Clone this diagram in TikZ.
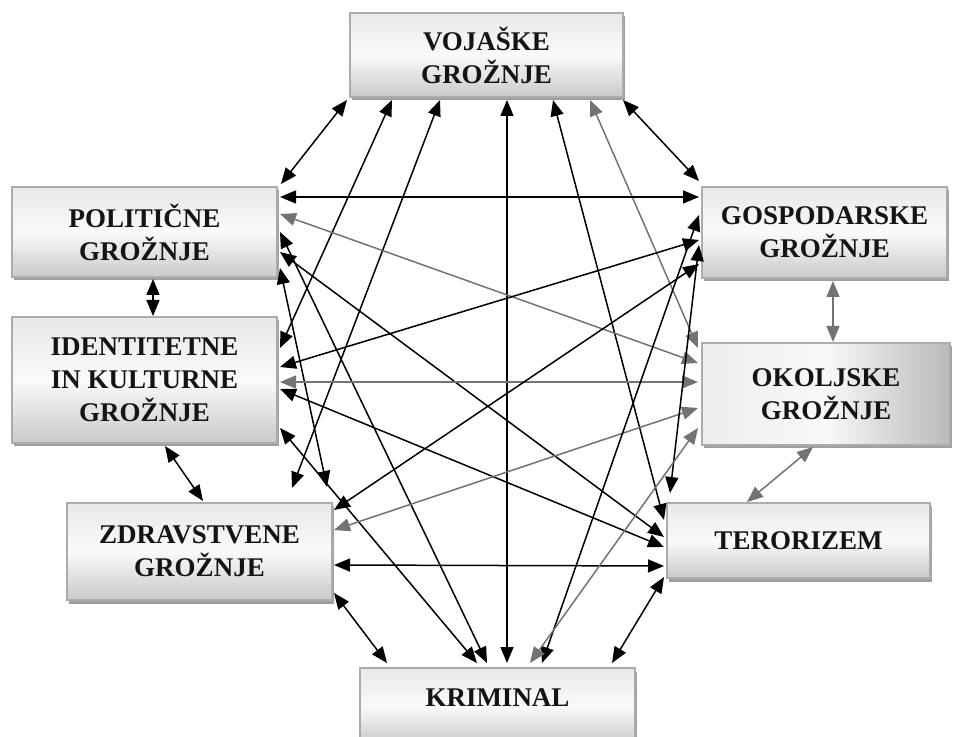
\documentclass[tikz,border=0pt]{standalone}
\usepackage{fontspec}
\setmainfont{Liberation Serif}
\usetikzlibrary{arrows.meta,shadows}
\begin{document}
\begin{tikzpicture}[x=1pt,y=1pt,
  box/.style={draw=gray!65, line width=1.8pt, top color=gray!18, bottom color=gray!42, middle color=gray!4,
    drop shadow={shadow xshift=2pt, shadow yshift=-3.5pt, fill=gray!75, opacity=1},
    align=center, text=black!92, font=\fontsize{27}{33}\selectfont\bfseries, inner sep=2pt},
  dbl/.style={{Triangle[length=16pt,width=13pt]}-{Triangle[length=16pt,width=13pt]}, line width=1.5pt, color=black},
  gr/.style={dbl, color=black!55}]
\useasboundingbox (0,0) rectangle (957,736);
\node[box, minimum width=273pt, minimum height=84pt] (V) at (486.5,681) {VOJAŠKE\\GROŽNJE};
\node[box, minimum width=265pt, minimum height=90pt] (P) at (144.5,504) {POLITIČNE\\GROŽNJE};
\node[box, minimum width=265pt, minimum height=126pt] (I) at (144.5,356) {IDENTITETNE\\IN KULTURNE\\GROŽNJE};
\node[box, minimum width=265pt, minimum height=97pt] (Z) at (199.5,184.5) {ZDRAVSTVENE\\GROŽNJE};
\node[box, minimum width=245pt, minimum height=91pt] (G) at (824.5,503.5) {GOSPODARSKE\\GROŽNJE};
\node[box, minimum width=248pt, minimum height=102pt, left color=gray!14, right color=gray!55, middle color=gray!5] (O) at (826,342) {OKOLJSKE\\GROŽNJE};
\node[box, minimum width=263pt, minimum height=75pt] (T) at (798.5,195.5) {TERORIZEM};
\node[box, minimum width=275pt, minimum height=76pt, text height=18pt, text depth=18pt] (K) at (497.5,30) {KRIMINAL};
% VOJASKE
\draw[dbl] ([shift={(-139.5,-45)}]V.center) -- ([shift={(136.5,48)}]P.center);
\draw[dbl] ([shift={(-94.5,-45)}]V.center) -- ([shift={(135.5,32)}]I.center);
\draw[dbl] ([shift={(-46.5,-45)}]V.center) -- ([shift={(92.5,63.5)}]Z.center);
\draw[dbl] ([shift={(20.5,-45)}]V.center) -- ([shift={(9.5,43)}]K.center);
\draw[dbl] ([shift={(66.5,-45)}]V.center) -- ([shift={(-134.5,20.5)}]T.center);
\draw[gr] ([shift={(103.5,-45)}]V.center) -- ([shift={(-128,46)}]O.center);
\draw[dbl] ([shift={(136.5,-45)}]V.center) -- ([shift={(-125.5,51.5)}]G.center);
% POLITICNE
\draw[dbl] ([shift={(8.5,-47)}]P.center) -- ([shift={(8.5,64)}]I.center);
\draw[dbl] ([shift={(135.5,35)}]P.center) -- ([shift={(-125.5,35.5)}]G.center);
\draw[gr] ([shift={(135.5,18)}]P.center) -- ([shift={(-128,31)}]O.center);
\draw[dbl] ([shift={(135.5,0)}]P.center) -- ([shift={(-10.5,43)}]K.center);
\draw[dbl] ([shift={(135.5,-20)}]P.center) -- ([shift={(-134.5,3.5)}]T.center);
\draw[dbl] ([shift={(135.5,-36)}]P.center) -- ([shift={(127.5,64.5)}]Z.center);
% IDENTITETNE
\draw[dbl] ([shift={(135.5,13)}]I.center) -- ([shift={(-125.5,-7.5)}]G.center);
\draw[gr] ([shift={(135.5,-2)}]I.center) -- ([shift={(-128,12)}]O.center);
\draw[dbl] ([shift={(135.5,-9)}]I.center) -- ([shift={(-134.5,-6.5)}]T.center);
\draw[dbl] ([shift={(135.5,-48)}]I.center) -- ([shift={(-20.5,43)}]K.center);
\draw[dbl] ([shift={(20.5,-66)}]I.center) -- ([shift={(3.5,50.5)}]Z.center);
% ZDRAVSTVENE
\draw[dbl] ([shift={(134.5,41.5)}]Z.center) -- ([shift={(-125.5,-31.5)}]G.center);
\draw[gr] ([shift={(134.5,21.5)}]Z.center) -- ([shift={(-128,-14)}]O.center);
\draw[dbl] ([shift={(134.5,-13.5)}]Z.center) -- ([shift={(-134.5,-25.5)}]T.center);
\draw[dbl] ([shift={(134.5,-41.5)}]Z.center) -- ([shift={(-110.5,43)}]K.center);
% GOSPODARSKE
\draw[gr] ([shift={(8.5,-48.5)}]G.center) -- ([shift={(7,52)}]O.center);
\draw[dbl] ([shift={(-125.5,17.5)}]G.center) -- ([shift={(44.5,43)}]K.center);
\draw[dbl] ([shift={(-125.5,-12.5)}]G.center) -- ([shift={(-128.5,47.5)}]T.center);
% OKOLJSKE
\draw[gr] ([shift={(-13,-53)}]O.center) -- ([shift={(-51.5,38.5)}]T.center);
\draw[gr] ([shift={(-128,-34)}]O.center) -- ([shift={(32.5,43)}]K.center);
% TERORIZEM
\draw[dbl] ([shift={(-134.5,-36.5)}]T.center) -- ([shift={(114.5,43)}]K.center);
\end{tikzpicture}
\end{document}
